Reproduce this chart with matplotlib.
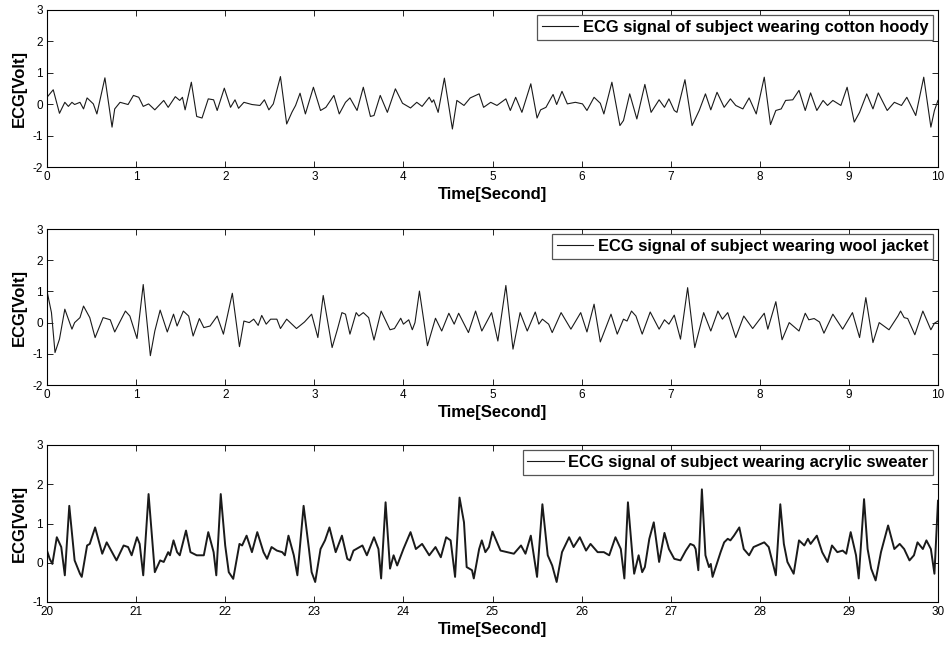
import matplotlib
matplotlib.use("Agg")
import matplotlib.pyplot as plt

plt.rcParams['font.family'] = ['Liberation Sans', 'DejaVu Sans']
plt.rcParams['axes.unicode_minus'] = False

# ---- Panel 1: cotton hoody (time s, ECG V) ----
t1 = [0, 0.07, 0.14, 0.2, 0.24, 0.28, 0.31, 0.37, 0.41, 0.45, 0.52, 0.56, 0.65, 0.73, 0.76, 0.82, 0.91, 0.97,
      1.03, 1.08, 1.14, 1.21, 1.31, 1.36, 1.44, 1.49, 1.52, 1.55, 1.62, 1.68, 1.74, 1.81, 1.87, 1.91, 1.99,
      2.06, 2.11, 2.15, 2.21, 2.30, 2.39, 2.44, 2.49, 2.54, 2.62, 2.69, 2.75, 2.79, 2.84, 2.90, 2.99, 3.07,
      3.13, 3.22, 3.28, 3.35, 3.40, 3.48, 3.55, 3.63, 3.67, 3.74, 3.82, 3.91, 3.99, 4.08, 4.15, 4.21, 4.29,
      4.32, 4.34, 4.39, 4.46, 4.55, 4.60, 4.68, 4.75, 4.85, 4.90, 4.98, 5.05, 5.15, 5.20, 5.26, 5.33, 5.43,
      5.50, 5.54, 5.60, 5.68, 5.72, 5.78, 5.84, 5.93, 6.01, 6.06, 6.14, 6.21, 6.25, 6.34, 6.43, 6.47, 6.54,
      6.62, 6.71, 6.78, 6.87, 6.93, 6.98, 7.04, 7.07, 7.16, 7.24, 7.32, 7.39, 7.45, 7.52, 7.60, 7.67, 7.73,
      7.81, 7.88, 7.96, 8.05, 8.12, 8.18, 8.24, 8.29, 8.37, 8.44, 8.51, 8.57, 8.64, 8.71, 8.76, 8.82, 8.91,
      8.98, 9.06, 9.12, 9.20, 9.27, 9.33, 9.43, 9.51, 9.59, 9.65, 9.75, 9.84, 9.92, 9.96, 10.0]
v1 = [0.22, 0.46, -0.29, 0.06, -0.07, 0.06, -0.01, 0.06, -0.15, 0.20, 0.01, -0.31, 0.84, -0.73, -0.15, 0.06,
      -0.01, 0.28, 0.22, -0.07, 0.01, -0.18, 0.12, -0.10, 0.24, 0.12, 0.22, -0.18, 0.70, -0.39, -0.44, 0.17,
      0.14, -0.20, 0.51, -0.10, 0.14, -0.13, 0.06, -0.01, -0.04, 0.14, -0.18, 0.01, 0.88, -0.63, -0.25, -0.04,
      0.35, -0.31, 0.54, -0.20, -0.10, 0.28, -0.31, 0.06, 0.20, -0.20, 0.54, -0.39, -0.36, 0.28, -0.26, 0.49,
      0.03, -0.12, 0.06, -0.07, 0.22, 0.06, 0.14, -0.26, 0.83, -0.79, 0.12, -0.04, 0.20, 0.33, -0.10, 0.06,
      -0.04, 0.17, -0.20, 0.22, -0.26, 0.65, -0.44, -0.18, -0.10, 0.31, -0.01, 0.41, 0.01, 0.06, 0.01, -0.20,
      0.22, 0.03, -0.31, 0.70, -0.68, -0.52, 0.33, -0.47, 0.63, -0.26, 0.14, -0.10, 0.17, -0.20, -0.26, 0.78,
      -0.68, -0.20, 0.33, -0.18, 0.38, -0.10, 0.17, -0.04, -0.15, 0.20, -0.31, 0.86, -0.65, -0.20, -0.15, 0.12,
      0.14, 0.44, -0.20, 0.36, -0.20, 0.12, -0.04, 0.12, -0.04, 0.54, -0.57, -0.26, 0.33, -0.15, 0.36, -0.20,
      0.06, -0.04, 0.22, -0.36, 0.86, -0.73, -0.20, 0.12]

# ---- Panel 2: wool jacket ----
t2 = [0, 0.05, 0.09, 0.14, 0.20, 0.28, 0.31, 0.37, 0.41, 0.48, 0.54, 0.63, 0.71, 0.76, 0.88, 0.93, 1.01, 1.08,
      1.16, 1.21, 1.27, 1.35, 1.42, 1.46, 1.53, 1.59, 1.64, 1.71, 1.76, 1.83, 1.91, 1.98, 2.08, 2.16, 2.21,
      2.27, 2.32, 2.37, 2.41, 2.46, 2.51, 2.58, 2.62, 2.69, 2.80, 2.89, 2.97, 3.04, 3.10, 3.20, 3.26, 3.31,
      3.35, 3.40, 3.47, 3.50, 3.55, 3.61, 3.67, 3.75, 3.85, 3.90, 3.97, 4.00, 4.06, 4.10, 4.13, 4.18, 4.27,
      4.36, 4.43, 4.51, 4.57, 4.62, 4.73, 4.81, 4.88, 4.99, 5.06, 5.15, 5.23, 5.31, 5.39, 5.48, 5.52, 5.56,
      5.63, 5.67, 5.77, 5.88, 5.99, 6.06, 6.14, 6.21, 6.33, 6.40, 6.47, 6.51, 6.56, 6.61, 6.68, 6.77, 6.87,
      6.93, 6.98, 7.04, 7.11, 7.19, 7.27, 7.37, 7.45, 7.53, 7.58, 7.64, 7.73, 7.82, 7.92, 8.05, 8.09, 8.18,
      8.25, 8.33, 8.44, 8.51, 8.55, 8.61, 8.67, 8.72, 8.82, 8.93, 9.04, 9.12, 9.19, 9.27, 9.34, 9.45, 9.55,
      9.58, 9.62, 9.66, 9.74, 9.83, 9.92, 9.96, 10.0]
v2 = [1.01, 0.32, -0.96, -0.53, 0.43, -0.21, 0.0, 0.16, 0.53, 0.16, -0.48, 0.16, 0.09, -0.30, 0.37, 0.21,
      -0.51, 1.22, -1.06, -0.27, 0.40, -0.30, 0.27, -0.11, 0.37, 0.21, -0.43, 0.13, -0.16, -0.11, 0.21, -0.37,
      0.94, -0.77, 0.05, 0.0, 0.11, -0.09, 0.23, -0.05, 0.11, 0.11, -0.19, 0.11, -0.19, 0.02, 0.27, -0.48,
      0.87, -0.80, -0.21, 0.32, 0.27, -0.37, 0.32, 0.21, 0.32, 0.16, -0.56, 0.37, -0.23, -0.19, 0.14, -0.05,
      0.09, -0.23, 0.0, 1.01, -0.74, 0.14, -0.27, 0.30, -0.05, 0.30, -0.32, 0.37, -0.27, 0.32, -0.59, 1.19,
      -0.85, 0.32, -0.27, 0.34, -0.05, 0.11, -0.05, -0.32, 0.32, -0.21, 0.32, -0.30, 0.59, -0.62, 0.27, -0.37,
      0.11, 0.05, 0.37, 0.21, -0.37, 0.34, -0.21, 0.09, -0.05, 0.24, -0.53, 1.12, -0.80, 0.32, -0.27, 0.37,
      0.11, 0.32, -0.48, 0.21, -0.19, 0.30, -0.21, 0.67, -0.55, 0.0, -0.27, 0.30, 0.09, 0.13, 0.02, -0.34,
      0.27, -0.21, 0.32, -0.48, 0.80, -0.64, 0.0, -0.23, 0.21, 0.37, 0.16, 0.13, -0.39, 0.37, -0.23, -0.02,
      0.05]

# ---- Panel 3: acrylic sweater ----
t3 = [20.00, 20.03, 20.06, 20.11, 20.16, 20.20, 20.25, 20.31, 20.37, 20.39, 20.45, 20.48, 20.54, 20.60, 20.62,
      20.67, 20.73, 20.78, 20.86, 20.91, 20.95, 21.01, 21.04, 21.08, 21.14, 21.21, 21.27, 21.31, 21.36, 21.38,
      21.42, 21.46, 21.49, 21.56, 21.61, 21.68, 21.76, 21.81, 21.87, 21.90, 21.95, 22.00, 22.04, 22.09, 22.16,
      22.19, 22.24, 22.30, 22.36, 22.43, 22.47, 22.52, 22.58, 22.64, 22.67, 22.71, 22.77, 22.81, 22.88, 22.94,
      22.97, 23.01, 23.07, 23.12, 23.17, 23.24, 23.31, 23.37, 23.40, 23.44, 23.54, 23.59, 23.67, 23.72, 23.75,
      23.80, 23.85, 23.89, 23.93, 24.00, 24.08, 24.14, 24.21, 24.29, 24.36, 24.42, 24.48, 24.53, 24.58, 24.63,
      24.68, 24.71, 24.77, 24.79, 24.85, 24.88, 24.92, 24.96, 25.00, 25.09, 25.24, 25.32, 25.37, 25.43, 25.50,
      25.56, 25.62, 25.67, 25.72, 25.78, 25.86, 25.91, 25.98, 26.05, 26.10, 26.18, 26.25, 26.31, 26.38, 26.44,
      26.48, 26.52, 26.57, 26.59, 26.64, 26.68, 26.71, 26.76, 26.81, 26.87, 26.93, 26.98, 27.04, 27.11, 27.17,
      27.22, 27.26, 27.28, 27.31, 27.35, 27.39, 27.43, 27.45, 27.47, 27.56, 27.60, 27.64, 27.67, 27.71, 27.77,
      27.82, 27.88, 27.93, 27.97, 28.05, 28.10, 28.18, 28.23, 28.27, 28.31, 28.38, 28.44, 28.50, 28.54, 28.57,
      28.64, 28.70, 28.76, 28.81, 28.87, 28.93, 28.97, 29.02, 29.08, 29.11, 29.17, 29.21, 29.25, 29.30, 29.36,
      29.44, 29.51, 29.57, 29.62, 29.68, 29.73, 29.77, 29.83, 29.87, 29.92, 29.96, 30.00]
v3 = [0.31, 0.10, -0.03, 0.65, 0.40, -0.32, 1.45, 0.06, -0.28, -0.36, 0.44, 0.48, 0.90, 0.40, 0.23, 0.52,
      0.27, 0.06, 0.44, 0.40, 0.19, 0.65, 0.48, -0.32, 1.75, -0.24, 0.06, 0.02, 0.27, 0.19, 0.57, 0.27, 0.19,
      0.82, 0.27, 0.19, 0.19, 0.78, 0.27, -0.32, 1.75, 0.44, -0.24, -0.41, 0.48, 0.44, 0.69, 0.27, 0.78, 0.27,
      0.10, 0.40, 0.31, 0.27, 0.19, 0.69, 0.19, -0.32, 1.45, 0.35, -0.24, -0.49, 0.35, 0.57, 0.90, 0.27, 0.69,
      0.10, 0.06, 0.31, 0.44, 0.19, 0.65, 0.35, -0.40, 1.54, -0.15, 0.19, -0.07, 0.35, 0.78, 0.35, 0.48, 0.19,
      0.40, 0.14, 0.65, 0.57, -0.36, 1.66, 1.03, -0.11, -0.19, -0.40, 0.35, 0.57, 0.27, 0.40, 0.79, 0.31, 0.23,
      0.44, 0.23, 0.69, -0.36, 1.49, 0.19, -0.07, -0.49, 0.27, 0.65, 0.40, 0.65, 0.31, 0.48, 0.27, 0.27, 0.19,
      0.65, 0.35, -0.40, 1.54, 0.19, -0.28, 0.19, -0.24, -0.11, 0.61, 1.03, 0.02, 0.76, 0.35, 0.10, 0.06, 0.31,
      0.48, 0.44, 0.35, -0.19, 1.87, 0.19, -0.11, -0.03, -0.36, 0.27, 0.52, 0.61, 0.57, 0.69, 0.90, 0.35, 0.19,
      0.40, 0.44, 0.52, 0.40, -0.32, 1.49, 0.48, 0.02, -0.28, 0.57, 0.44, 0.61, 0.48, 0.69, 0.27, 0.02, 0.44,
      0.27, 0.31, 0.23, 0.78, 0.19, -0.40, 1.62, 0.35, -0.15, -0.45, 0.27, 0.95, 0.35, 0.48, 0.35, 0.06, 0.19,
      0.52, 0.35, 0.57, 0.35, -0.28, 1.58]

labels = ["ECG signal of subject wearing cotton hoody",
          "ECG signal of subject wearing wool jacket",
          "ECG signal of subject wearing acrylic sweater"]
xlims = [(0, 10), (0, 10), (20, 30)]
ylims = [(-2, 3), (-2, 3), (-1, 3)]
xticks = [list(range(0, 11)), list(range(0, 11)), list(range(20, 31))]
yticks = [[-2, -1, 0, 1, 2, 3], [-2, -1, 0, 1, 2, 3], [-1, 0, 1, 2, 3]]
series = [(t1, v1), (t2, v2), (t3, v3)]
linewidths = [0.8, 0.8, 1.4]

W, H = 948, 649
fig = plt.figure(figsize=(W / 100, H / 100), dpi=100)
boxes = [(47, 10, 938, 167), (47, 229, 938, 385), (47, 445, 938, 602)]

for i, ((x0, y0, x1, y1), (t, v)) in enumerate(zip(boxes, series)):
    ax = fig.add_axes([x0 / W, 1 - y1 / H, (x1 - x0) / W, (y1 - y0) / H])
    ax.plot(t, v, color='#1a1a1a', lw=linewidths[i], label=labels[i])
    ax.set_xlim(*xlims[i])
    ax.set_ylim(*ylims[i])
    ax.set_xticks(xticks[i])
    ax.set_yticks(yticks[i])
    ax.tick_params(direction='in', top=True, right=True, labelsize=8.5, length=4, width=0.6, pad=3)
    for sp in ax.spines.values():
        sp.set_linewidth(0.8)
        sp.set_color('black')
    ax.set_xlabel("Time[Second]", fontsize=12, fontweight='bold', labelpad=3)
    ax.set_ylabel("ECG[Volt]", fontsize=12, fontweight='bold', labelpad=4)
    leg = ax.legend(loc='upper right', prop={'weight': 'bold', 'size': 11.9},
                    fancybox=False, framealpha=1, edgecolor='#555555', handlelength=2.2,
                    handletextpad=0.25, borderaxespad=0.3, borderpad=0.3)
    leg.get_frame().set_linewidth(0.9)
    for ln in leg.get_lines():
        ln.set_linewidth(0.8)

fig.savefig("out.png", dpi=100)
